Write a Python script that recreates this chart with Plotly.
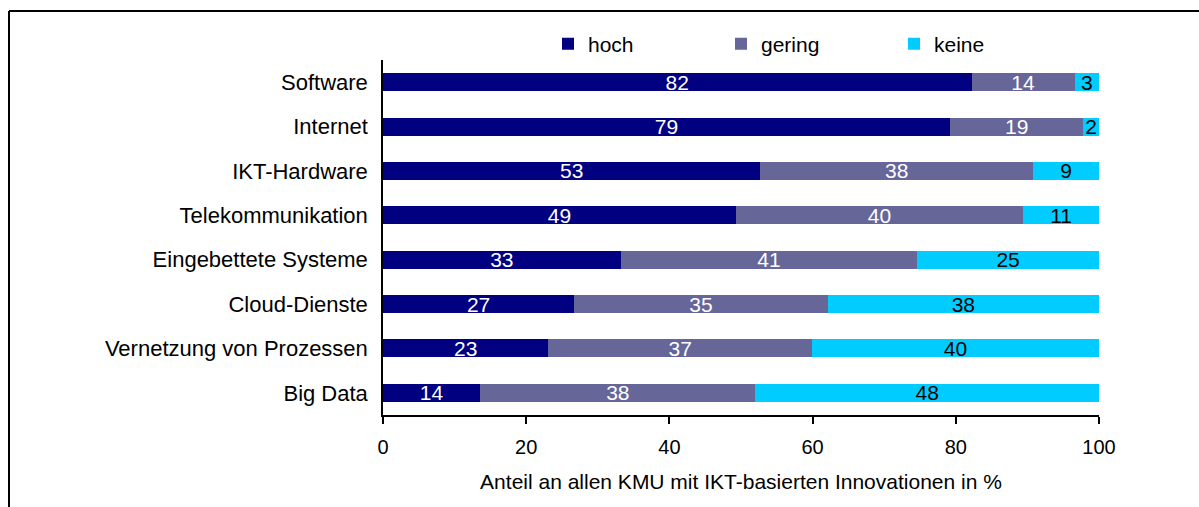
import plotly.graph_objects as go

categories = ["Software", "Internet", "IKT-Hardware", "Telekommunikation",
              "Eingebettete Systeme", "Cloud-Dienste", "Vernetzung von Prozessen", "Big Data"]
hoch = [82.2, 79.2, 52.7, 49.3, 33.2, 26.7, 23.1, 13.6]
gering = [14.4, 18.6, 38.1, 40.1, 41.4, 35.4, 36.8, 38.4]
keine = [3.4, 2.2, 9.2, 10.6, 25.4, 37.9, 40.1, 48.0]
series_names = ["hoch", "gering", "keine"]
x_ticks = [0, 20, 40, 60, 80, 100]

FONT = "Liberation Sans, Arial, sans-serif"
colors = ["#000080", "#666699", "#00CCFF"]
text_colors = ["white", "white", "black"]

fig = go.Figure()
for name, vals, c, tc in zip(series_names, [hoch, gering, keine], colors, text_colors):
    fig.add_trace(go.Bar(
        y=categories, x=vals, name=name, orientation="h",
        marker=dict(color=c, line=dict(width=0)),
        texttemplate="%{x:.0f}", textposition="inside", insidetextanchor="middle",
        textangle=0,
        textfont=dict(family=FONT, size=21, color=tc),
        hoverinfo="skip",
    ))

W, H = 1199, 507
ml, mr, mt, mb = 383, 100, 60, 92
pw, ph = W - ml - mr, H - mt - mb

def px2x(px):
    return (px - ml) / pw

def py2y(py):
    return (H - mb - py) / ph

fig.update_layout(
    width=W, height=H,
    margin=dict(l=ml, r=mr, t=mt, b=mb, autoexpand=False),
    barmode="stack", bargap=0.595,
    plot_bgcolor="white", paper_bgcolor="white",
    font=dict(family=FONT, size=21, color="black"),
    uniformtext=dict(mode="show", minsize=21),
    showlegend=True,
    legend=dict(orientation="h", xref="paper", yref="paper",
                x=px2x(548), y=py2y(44), xanchor="left", yanchor="middle",
                traceorder="normal",
                entrywidth=128, entrywidthmode="pixels",
                font=dict(family=FONT, size=21, color="black"),
                bgcolor="rgba(0,0,0,0)", itemclick=False),
    xaxis=dict(range=[0, 100], tickvals=x_ticks, showgrid=False, zeroline=False,
               showline=True, linecolor="black", linewidth=1.5,
               ticks="outside", ticklen=7, tickcolor="black", tickwidth=1.5,
               ticklabelstandoff=6,
               tickfont=dict(family=FONT, size=20, color="black"),
               title=dict(text="Anteil an allen KMU mit IKT-basierten Innovationen in %",
                          font=dict(family=FONT, size=21, color="black"), standoff=18)),
    yaxis=dict(autorange="reversed", showgrid=False, zeroline=False,
               showline=True, linecolor="black", linewidth=1.5, ticks="",
               ticklabelstandoff=9,
               tickfont=dict(family=FONT, size=22, color="black")),
    shapes=[
        dict(type="line", xref="paper", yref="paper",
             x0=px2x(9), x1=px2x(9), y0=py2y(11), y1=py2y(H + 5),
             line=dict(color="black", width=2)),
        dict(type="line", xref="paper", yref="paper",
             x0=px2x(9), x1=px2x(W + 5), y0=py2y(11), y1=py2y(11),
             line=dict(color="black", width=2)),
    ],
)

fig.write_html("out.html", config={"displayModeBar": False},
               post_script="document.body.style.margin='0';document.body.style.overflow='hidden';")
